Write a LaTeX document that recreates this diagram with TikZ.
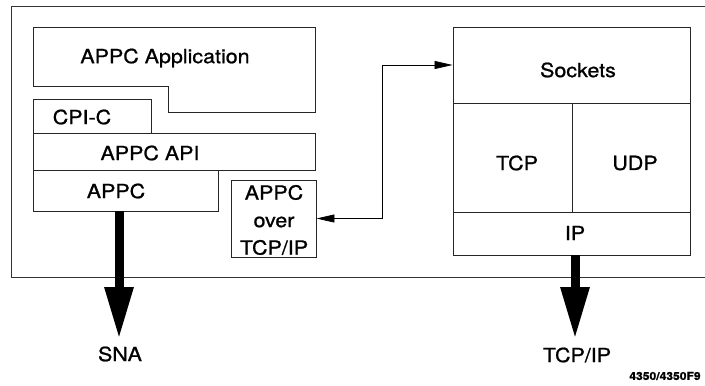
\documentclass[tikz,border=0pt]{standalone}
\usepackage{fontspec}
\setmainfont{TeX Gyre Heros}[FakeStretch=1.1,FakeBold=1]
\usetikzlibrary{arrows.meta}
\begin{document}
\begin{tikzpicture}[x=1pt,y=-1pt,
  box/.style={draw=black!85,line width=0.9pt},
  lbl/.style={font=\fontsize{19.5}{27}\selectfont,inner sep=0pt,align=center},
  thin/.style={draw=black,line width=0.7pt,{Triangle[length=18pt,width=8pt]}-{Triangle[length=18pt,width=8pt]}},
  fat/.style={draw=black,line width=9pt,-{Triangle[length=52pt,width=27pt]}}]
\useasboundingbox (0,0) rectangle (705,386);
% frame
\draw[draw=black!80,line width=0.9pt] (705,6) -- (11,6) -- (11,277) -- (705,277);
% left stack
\draw[box] (33,27) -- (315,27) -- (315,112) -- (168,112) -- (168,86) -- (33,86) -- cycle;
\node[lbl] (app) at (165,58) {APPC Application};
\draw[box] (33,99) rectangle (151,133);
\node[lbl] (cpic) at (82,117) {CPI-C};
\draw[box] (33,133) rectangle (315,170);
\node[lbl] (api) at (150,153) {APPC API};
\draw[box] (33,170) rectangle (218,211);
\node[lbl] (appc) at (116,191) {APPC};
\coordinate (appcb) at (119,211);
\node[box,minimum width=85pt,minimum height=77pt,inner sep=0pt] (aot) at (273.5,218.5) {};
\node[lbl,font=\fontsize{19.5}{27.5}\selectfont] (aottxt) at (274,220) {APPC\\over\\TCP/IP};
% right stack
\node[box,minimum width=237pt,minimum height=76pt,inner sep=0pt] (sock) at (571.5,65) {};
\node[lbl] (socktxt) at (578,70) {Sockets};
\draw[box] (453,103) rectangle (572,212);
\draw[box] (572,103) rectangle (690,212);
\node[lbl] (tcp) at (517,163) {TCP};
\node[lbl] (udp) at (635,163) {UDP};
\draw[box] (453,212) rectangle (690,255);
\node[lbl] (ip) at (575,233) {IP};
\coordinate (ipb) at (575,255);
% connectors
\draw[thin] (aot.east) -- ++(66,0) |- (sock.west);
\coordinate (snaend) at (119,339);
\coordinate (tcpend) at (575,339);
\draw[fat] (appcb) -- (snaend);
\draw[fat] (ipb) -- (tcpend);
% bottom labels
\node[lbl] (sna) at (120,354) {SNA};
\node[lbl] (tcpip) at (577,355) {TCP/IP};
\node[inner sep=0pt,font=\fontsize{11}{13}\selectfont\bfseries] (fig) at (665,376) {4350/4350F9};
\end{tikzpicture}
\end{document}
